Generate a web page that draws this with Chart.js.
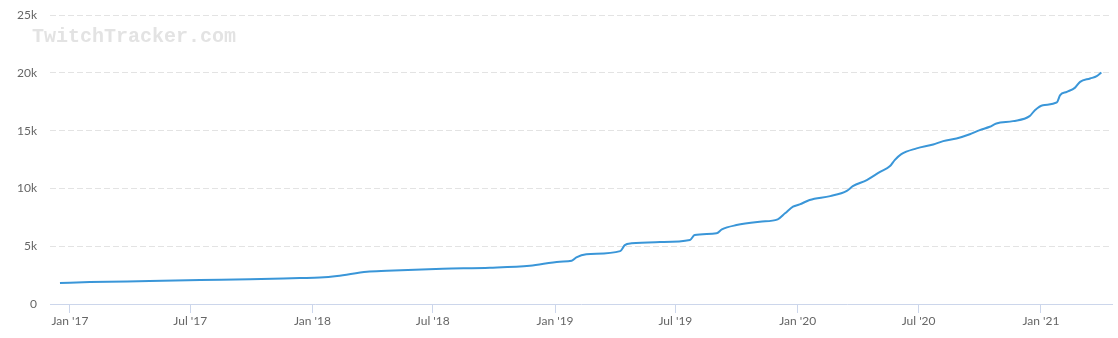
<!DOCTYPE html>
<html>
<head>
<meta charset="utf-8">
<script src="https://cdn.jsdelivr.net/npm/chart.js@4/dist/chart.umd.min.js"></script>
<style>
  html, body { margin: 0; padding: 0; background: #fff; }
  #wrap { position: relative; width: 1118px; height: 338px; }
  #watermark {
    position: absolute; left: 32px; top: 25px;
    font-family: "Liberation Mono", monospace; font-weight: bold;
    font-size: 20px; color: #e3e3e3; white-space: nowrap; pointer-events: none;
  }
</style>
</head>
<body>
<div id="wrap">
  <canvas id="c" width="1118" height="338"></canvas>
  <div id="watermark">TwitchTracker.com</div>
</div>
<script>
// Data (follower count over time)
const dates = [
  "2016-12-17","2017-01-31","2017-05-01","2017-07-16","2017-09-29","2017-12-13",
  "2018-01-12","2018-02-07","2018-03-24","2018-04-23","2018-07-16","2018-09-25",
  "2018-11-24","2019-01-08","2019-01-26","2019-02-02","2019-02-17","2019-04-09",
  "2019-04-16","2019-04-26","2019-06-08","2019-07-23","2019-07-30","2019-09-01",
  "2019-09-09","2019-10-01","2019-11-05","2019-12-02","2019-12-13","2019-12-25",
  "2020-01-04","2020-01-19","2020-02-19","2020-03-15","2020-03-24","2020-04-14",
  "2020-05-04","2020-05-19","2020-05-26","2020-06-05","2020-06-28","2020-07-23",
  "2020-08-07","2020-08-27","2020-09-16","2020-10-01","2020-10-16","2020-10-26",
  "2020-11-20","2020-12-15","2020-12-23","2021-01-04","2021-01-25","2021-01-30",
  "2021-02-09","2021-02-21","2021-03-01","2021-03-16","2021-03-26","2021-04-02"
];
const followers = [
  1820, 1900, 1990, 2075, 2150, 2250,
  2290, 2420, 2800, 2880, 3050, 3140,
  3310, 3660, 3750, 4040, 4300, 4580,
  5100, 5250, 5360, 5540, 5970, 6120,
  6460, 6830, 7120, 7330, 7850, 8420,
  8620, 9000, 9340, 9800, 10200, 10730,
  11440, 11940, 12460, 12980, 13470, 13810,
  14100, 14330, 14700, 15050, 15340, 15630,
  15830, 16260, 16780, 17210, 17450, 18080,
  18360, 18710, 19230, 19520, 19720, 20040
];
const tickDates = ["2017-01-01","2017-07-01","2018-01-01","2018-07-01","2019-01-01",
                   "2019-07-01","2020-01-01","2020-07-01","2021-01-01"];
const tickLabels = ["Jan '17","Jul '17","Jan '18","Jul '18","Jan '19",
                    "Jul '19","Jan '20","Jul '20","Jan '21"];
const yTicks = [0, 5000, 10000, 15000, 20000, 25000];
const yTickLabels = ["0", "5k", "10k", "15k", "20k", "25k"];

const DAY = 86400000;
const origin = Date.UTC(2017, 0, 1);
function dayOf(s) { const p = s.split('-').map(Number); return (Date.UTC(p[0], p[1]-1, p[2]) - origin) / DAY; }

const points = dates.map((d, i) => ({ x: dayOf(d), y: followers[i] }));
const tickPos = tickDates.map(dayOf);

const FONT = { family: "Lato, 'Open Sans', sans-serif", size: 12 };

new Chart(document.getElementById('c'), {
  type: 'line',
  data: {
    datasets: [{
      data: points,
      borderColor: '#3a96d8',
      borderWidth: 2,
      pointRadius: 0,
      pointHoverRadius: 0,
      cubicInterpolationMode: 'monotone',
      fill: false
    }]
  },
  options: {
    responsive: false,
    animation: false,
    events: [],
    layout: { padding: { top: 0, right: 6, bottom: 0, left: 0 } },
    plugins: { legend: { display: false }, tooltip: { enabled: false } },
    scales: {
      x: {
        type: 'linear',
        min: -30,
        max: 1568,
        afterBuildTicks: (s) => { s.ticks = tickPos.map(v => ({ value: v })); },
        afterFit: (s) => { s.height = 34; },
        ticks: {
          autoSkip: false, maxRotation: 0, padding: 1,
          color: '#666', font: FONT,
          callback: (v) => { const i = tickPos.indexOf(v); return i >= 0 ? tickLabels[i] : ''; }
        },
        grid: { display: true, drawOnChartArea: false, drawTicks: true, tickLength: 9, color: '#ccd6eb', lineWidth: 1 },
        border: { display: true, color: '#ccd6eb', width: 1 }
      },
      y: {
        min: 0, max: 25000,
        afterBuildTicks: (s) => { s.ticks = yTicks.map(v => ({ value: v })); },
        afterFit: (s) => { s.width = 50; },
        ticks: {
          padding: 8, color: '#666', font: FONT,
          callback: (v) => { const i = yTicks.indexOf(v); return i >= 0 ? yTickLabels[i] : ''; }
        },
        grid: {
          drawTicks: true, tickLength: 5, tickColor: 'rgba(0,0,0,0)',
          color: (ctx) => ctx.tick && ctx.tick.value === 0 ? 'rgba(0,0,0,0)' : '#e3e3e3',
          lineWidth: 1
        },
        border: { display: false, dash: [6, 3] }
      }
    }
  }
});
</script>
</body>
</html>
